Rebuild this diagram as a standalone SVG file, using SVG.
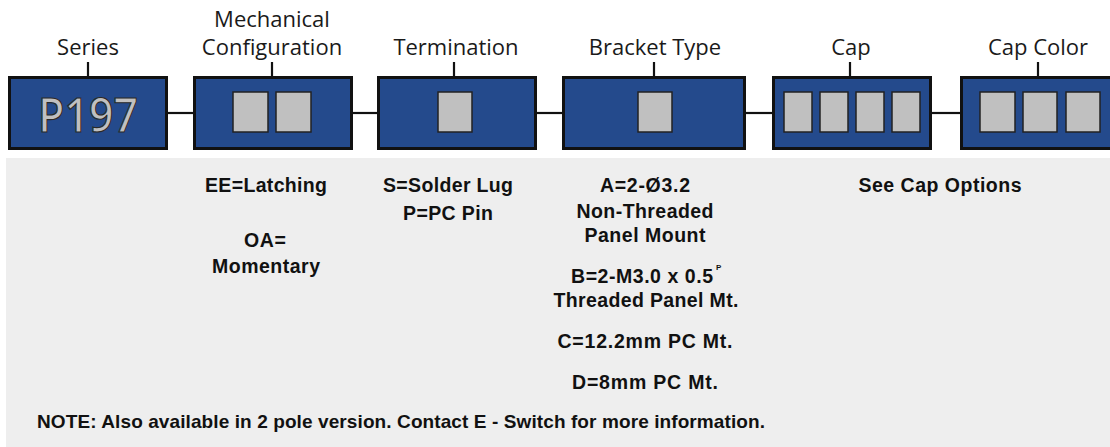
<svg xmlns="http://www.w3.org/2000/svg" width="1110" height="447" viewBox="0 0 1110 447">
<style>
.box{fill:#244a8c;stroke:#111;stroke-width:3}
.sq{fill:#c0c0c0;stroke:#222;stroke-width:1.5}
.lbl{font-family:"Open Sans","DejaVu Sans",sans-serif;font-size:22px;fill:#1a1a1a;text-anchor:middle}
.opt{font-family:"Liberation Sans",Arial,sans-serif;font-size:19.5px;font-weight:bold;fill:#111;text-anchor:middle}
.con{stroke:#111;stroke-width:2.2;fill:none}
</style>
<rect x="6" y="158" width="1104" height="289" fill="#eeeeee"/>
<g id="connectors">
<line class="con" x1="168" y1="113" x2="194" y2="113"/>
<line class="con" x1="353" y1="113" x2="378" y2="113"/>
<line class="con" x1="537" y1="113" x2="563" y2="113"/>
<line class="con" x1="746" y1="113" x2="773" y2="113"/>
<line class="con" x1="932" y1="113" x2="961" y2="113"/>
<line class="con" x1="88" y1="62" x2="88" y2="77"/>
<line class="con" x1="272" y1="62" x2="272" y2="77"/>
<line class="con" x1="454" y1="62" x2="454" y2="77"/>
<line class="con" x1="654" y1="62" x2="654" y2="77"/>
<line class="con" x1="850" y1="62" x2="850" y2="77"/>
<line class="con" x1="1038" y1="62" x2="1038" y2="77"/>
</g>
<g id="series">
<text class="lbl" x="88" y="55">Series</text>
<rect class="box" x="9.5" y="77.5" width="157" height="71"/>
<text x="88" y="132" font-family="'Open Sans','DejaVu Sans',sans-serif" font-size="47" font-weight="600" text-anchor="middle" fill="#c0c0c0" stroke="#2a2a2a" stroke-width="1.2" textLength="100" lengthAdjust="spacingAndGlyphs">P197</text>
</g>
<g id="mech">
<text class="lbl" x="272" y="27">Mechanical</text>
<text class="lbl" x="272" y="55">Configuration</text>
<rect class="box" x="194.5" y="77.5" width="157" height="71"/>
<rect class="sq" x="233" y="92" width="35" height="40"/>
<rect class="sq" x="276" y="92" width="35" height="40"/>
<text class="opt" x="266" y="192" textLength="122">EE=Latching</text>
<text class="opt" x="265" y="247" textLength="42">OA=</text>
<text class="opt" x="266" y="273" textLength="108">Momentary</text>
</g>
<g id="termination">
<text class="lbl" x="456" y="55">Termination</text>
<rect class="box" x="378.5" y="77.5" width="157" height="71"/>
<rect class="sq" x="438" y="92" width="34" height="40"/>
<text class="opt" x="448" y="192" textLength="130">S=Solder Lug</text>
<text class="opt" x="448" y="220" textLength="90">P=PC Pin</text>
</g>
<g id="bracket">
<text class="lbl" x="655" y="55">Bracket Type</text>
<rect class="box" x="563.5" y="77.5" width="181" height="71"/>
<rect class="sq" x="638" y="92" width="34" height="40"/>
<text class="opt" x="645" y="192" textLength="90">A=2-Ø3.2</text>
<text class="opt" x="645" y="218" textLength="137">Non-Threaded</text>
<text class="opt" x="645" y="242" textLength="121">Panel Mount</text>
<text class="opt" x="642" y="283" textLength="142">B=2-M3.0 x 0.5</text>
<text x="716" y="270" font-family="'Liberation Sans',Arial,sans-serif" font-size="8" font-weight="bold" fill="#111">P</text>
<text class="opt" x="646" y="307" textLength="185">Threaded Panel Mt.</text>
<text class="opt" x="645" y="348" textLength="175">C=12.2mm PC Mt.</text>
<text class="opt" x="645" y="389" textLength="146">D=8mm PC Mt.</text>
</g>
<g id="cap">
<text class="lbl" x="851" y="55">Cap</text>
<rect class="box" x="773.5" y="77.5" width="157" height="71"/>
<rect class="sq" x="784" y="92" width="28" height="40"/>
<rect class="sq" x="820" y="92" width="28" height="40"/>
<rect class="sq" x="856" y="92" width="28" height="40"/>
<rect class="sq" x="892" y="92" width="28" height="40"/>
<text class="opt" x="940" y="192" textLength="163">See Cap Options</text>
</g>
<g id="capcolor">
<text class="lbl" x="1038" y="55">Cap Color</text>
<rect class="box" x="961.5" y="77.5" width="160" height="71"/>
<rect class="sq" x="980" y="92" width="35" height="40"/>
<rect class="sq" x="1023" y="92" width="34" height="40"/>
<rect class="sq" x="1066" y="92" width="34" height="40"/>
</g>
<g id="note">
<text x="37" y="428" font-family="'Liberation Sans',Arial,sans-serif" font-size="19" font-weight="bold" fill="#111" textLength="728">NOTE:  Also available in 2 pole version. Contact E - Switch for more information.</text>
</g>
</svg>
